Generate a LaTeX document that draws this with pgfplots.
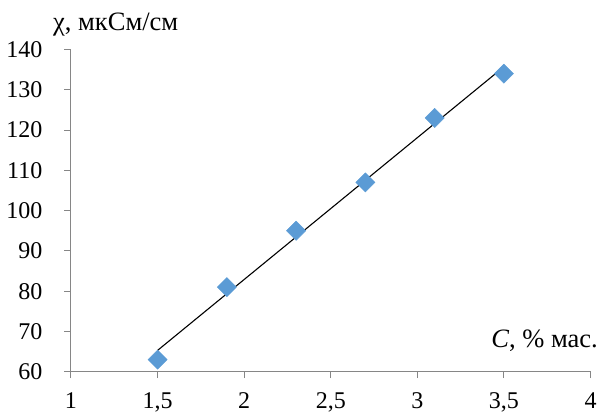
\documentclass[border=0pt]{standalone}
\usepackage{fontspec}
\setmainfont{Liberation Serif}
\usepackage{pgfplots}
\pgfplotsset{compat=1.18}
\definecolor{pt}{HTML}{5B9BD5}
\definecolor{ax}{HTML}{868686}
\begin{document}
\fontsize{24bp}{28bp}\selectfont
\begin{tikzpicture}
\begin{axis}[
  at={(0,0)}, anchor=south west,
  scale only axis, width=519.5bp, height=322.2bp,
  xmin=1, xmax=4, ymin=60, ymax=140,
  xtick={1,1.5,...,4}, ytick={60,70,...,140},
  axis x line*=bottom, axis y line*=left,
  axis line style={ax, line width=1bp},
  every tick/.style={ax, line width=1bp},
  tick align=outside, major tick length=6.5bp,
  /pgf/number format/assume math mode=true,
  /pgf/number format/use comma,
  xticklabel style={font=\fontsize{24bp}{28bp}\selectfont, yshift=-6bp},
  yticklabel style={font=\fontsize{24bp}{28bp}\selectfont, xshift=-14bp},
  clip=false,
]
\addplot[only marks, mark=square*, mark size=6.8bp, mark options={rotate=45, fill=pt, draw=pt}]
  coordinates {(1.5,63) (1.9,81) (2.3,95) (2.7,107) (3.1,123) (3.5,134)};
\addplot[black, line width=1.1bp] coordinates {(1.5,65.29) (3.5,135.71)};
\node[anchor=base west, inner sep=0pt, font=\fontsize{26.5bp}{30bp}\selectfont] at (rel axis cs:0,1) [xshift=-18bp, yshift=19.5bp] {χ, мкСм/см};
\node[anchor=base east, inner sep=0pt, font=\fontsize{26.5bp}{30bp}\selectfont] at (rel axis cs:1,0) [xshift=7.5bp, yshift=24.7bp] {\textit{C}, \% мас.};
\end{axis}
\pgfresetboundingbox
\path (-71bp,-42.3bp) rectangle (528bp,371.7bp);
\end{tikzpicture}
\end{document}
